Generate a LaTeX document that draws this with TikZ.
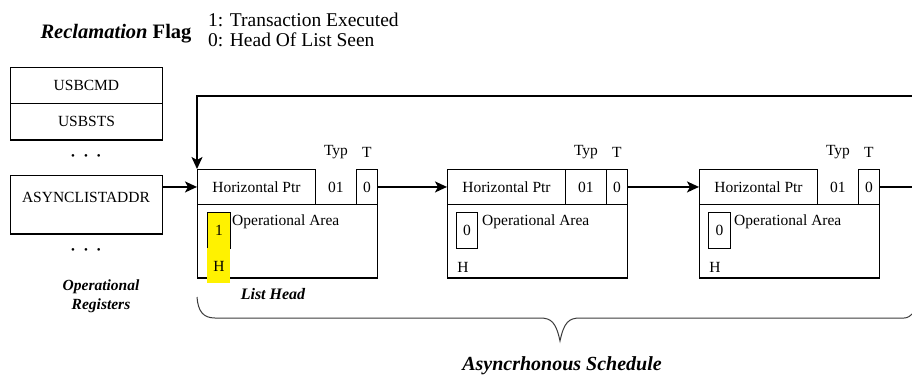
\documentclass[tikz,border=0pt]{standalone}
\usepackage{fontspec}
\setmainfont{Liberation Serif}
\usetikzlibrary{arrows.meta}
\definecolor{braceclr}{RGB}{60,60,60}
\tikzset{
  txt/.style={font=\fontsize{15.5}{18}\selectfont, inner sep=0pt},
  cell/.style={draw, line width=0.9pt, inner sep=0pt, anchor=north west, font=\fontsize{15.5}{18}\selectfont},
  bcell/.style={cell, draw=none},
  lbl/.style={font=\fontsize{15.5}{18}\selectfont\bfseries\itshape, inner sep=0pt},
  arr/.style={line width=1.7pt, -{Stealth[length=12pt,width=11pt,inset=3pt]}},
  dots/.style={font=\fontsize{11}{12}\selectfont, inner sep=0pt},
  bracestyle/.style={draw=braceclr, line width=1pt},
  thickedge/.style={line width=1.8pt}
}
\begin{document}
\begin{tikzpicture}[x=1pt,y=-1pt]
\useasboundingbox (0,0) rectangle (912,377);
\fill[white] (0,0) rectangle (912,377);

% top legend
\node[font=\fontsize{20.5}{22}\selectfont\bfseries, inner sep=0pt] (rflag) at (116,34) {\textit{Reclamation} Flag};
\node[font=\fontsize{19.5}{20}\selectfont, inner sep=0pt, anchor=west, align=left] (legend) at (208,30) {1: Transaction Executed\\0: Head Of List Seen};

% operational registers
\node[cell, minimum width=152pt, minimum height=36pt] (reg1) at (10,67) {USBCMD};
\node[cell, minimum width=152pt, minimum height=36pt] (reg2) at (10,103) {USBSTS};
\node[dots] (dots1) at (86,157) {\textbullet\hspace{9pt}\textbullet\hspace{9pt}\textbullet};
\node[cell, minimum width=152pt, minimum height=58pt, text depth=0pt] (asy) at (10,175) {};
\node[txt] (asytxt) at (86,197) {ASYNCLISTADDR};
\node[dots] (dots2) at (86,251) {\textbullet\hspace{9pt}\textbullet\hspace{9pt}\textbullet};
\node[lbl, align=center, font=\fontsize{15.5}{19}\selectfont\bfseries\itshape] (oregs) at (101,296) {Operational\\Registers};
\draw[thickedge] (reg2.south west) -- (reg2.south east);
\draw[thickedge] (asy.south west) -- (asy.south east);

% queue heads
\foreach \x/\i in {197/1,447/2,699/3} {
  \node[cell, minimum width=118pt, minimum height=35pt] (hp\i) at (\x,169) {Horizontal Ptr};
  \node[bcell, minimum width=41pt, minimum height=35pt] (typ\i) at (\x+118,169) {01};
  \node[cell, minimum width=21pt, minimum height=35pt] (t\i) at (\x+159,169) {0};
  \node[cell, minimum width=180pt, minimum height=73pt] (op\i) at (\x,204) {};
  \draw[thickedge] (op\i.south west) -- (op\i.south east);
  \node[txt] (typl\i) at ([yshift=35pt]typ\i.center) {Typ};
  \node[txt] (tl\i) at ([yshift=35pt]t\i.center) {T};
  \node[txt, anchor=west] (opa\i) at (\x+35,222) {Operational Area};
}
\draw[line width=0.9pt] (typ2.north west) -- (typ2.north east);

% flag boxes
\node[cell, fill=yellow, minimum width=23pt, minimum height=36pt] (f1) at (207,212) {1};
\node[cell, draw=none, fill=yellow, minimum width=23pt, minimum height=35pt] (h1) at (207,248) {H};
\node[cell, minimum width=21pt, minimum height=36pt] (f2) at (456,212) {0};
\node[txt] (h2) at (463,267) {H};
\node[cell, minimum width=22pt, minimum height=36pt] (f3) at (708,212) {0};
\node[txt] (h3) at (715,267) {H};

\node[lbl, font=\fontsize{16}{18}\selectfont\bfseries\itshape] (lhead) at (273,294) {List Head};

% connectors
\coordinate (loopR) at (930,96);
\draw[arr] (asy.east |- hp1.west) -- (hp1.west);
\draw[arr] (t1.east) -- (hp2.west);
\draw[arr] (t2.east) -- (hp3.west);
\draw[arr] (t3.east) -| (loopR) -| (hp1.north west);

% brace
\draw[bracestyle] (197,297) .. controls (198,311) and (203,318) .. (215,318)
  -- (540,318) .. controls (551,318) and (556,322) .. (560,341)
  .. controls (564,322) and (569,318) .. (580,318)
  -- (904,318) .. controls (908,318) and (910,316) .. (913,313);
\node[lbl, font=\fontsize{20}{22}\selectfont\bfseries\itshape] (asched) at (562,366) {Asyncrhonous Schedule};
\end{tikzpicture}
\end{document}
